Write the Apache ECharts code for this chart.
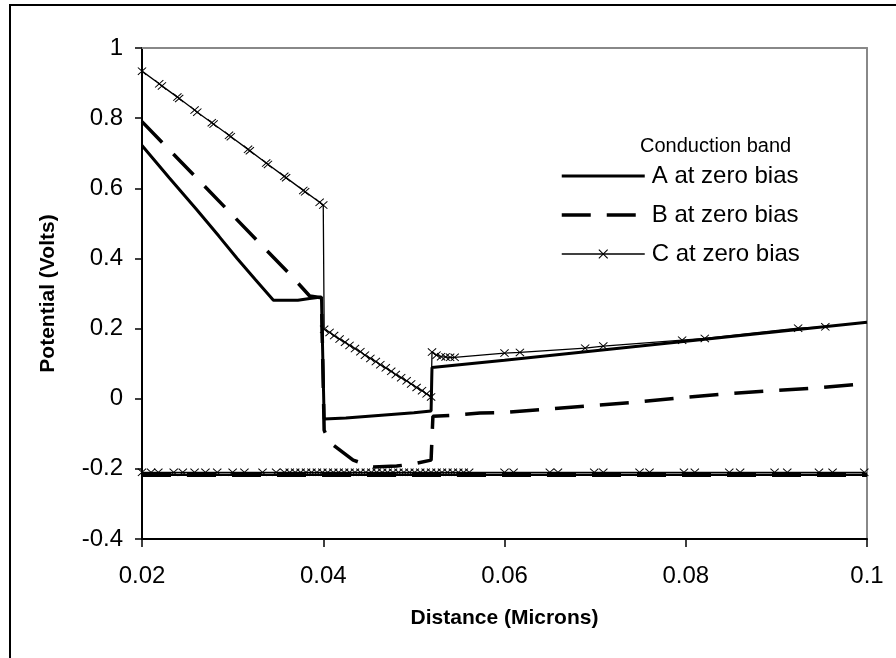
<!DOCTYPE html>
<html>
<head>
<meta charset="utf-8">
<script src="https://cdn.jsdelivr.net/npm/echarts@6/dist/echarts.min.js"></script>
<style>html,body{margin:0;padding:0;background:#fff;}#c{width:896px;height:658px;}</style>
</head>
<body>
<div id="c"></div>
<script>
// ---- tick labels ----
const xTickLabels = ['0.02', '0.04', '0.06', '0.08', '0.1'];
const yTickLabels = ['-0.4', '-0.2', '0', '0.2', '0.4', '0.6', '0.8', '1'];
const legendNames = ['A at zero bias', 'B at zero bias', 'C at zero bias'];

// ---- A at zero bias (conduction band) ----
const aX = [0.0200, 0.0230, 0.0260, 0.0285, 0.0305, 0.0325, 0.0345, 0.0372, 0.0385, 0.0398, 0.0400, 0.0401, 0.0425, 0.0450, 0.0475, 0.0500, 0.0519, 0.0520, 0.0600, 0.0700, 0.0800, 0.0900, 0.1000];
const aY = [0.722, 0.630, 0.540, 0.463, 0.400, 0.340, 0.281, 0.281, 0.286, 0.290, 0.290, -0.058, -0.055, -0.050, -0.045, -0.040, -0.035, 0.089, 0.110, 0.137, 0.164, 0.191, 0.218];

// ---- B at zero bias ----
const bX = [0.0200, 0.0365, 0.0385, 0.0398, 0.0400, 0.0401, 0.0407, 0.0433, 0.0455, 0.0481, 0.0499, 0.0519, 0.0521, 0.0545, 0.0573, 0.0595, 0.0645, 0.0694, 0.0744, 0.0791, 0.0841, 0.0890, 0.0939, 0.1000];
const bY = [0.790, 0.350, 0.293, 0.288, 0.290, -0.090, -0.124, -0.175, -0.195, -0.192, -0.186, -0.175, -0.050, -0.047, -0.041, -0.040, -0.030, -0.020, -0.010, 0.002, 0.013, 0.022, 0.030, 0.043];

// ---- C at zero bias ----
const cX = [0.0200, 0.0219, 0.0222, 0.0239, 0.0241, 0.0258, 0.0261, 0.0277, 0.0279, 0.0296, 0.0298, 0.0317, 0.0319, 0.0337, 0.0339, 0.0357, 0.0359, 0.0378, 0.0380, 0.0396, 0.0400,
  0.0401, 0.0407, 0.0412, 0.0418, 0.0424, 0.0429, 0.0435, 0.0441, 0.0446, 0.0452, 0.0458, 0.0463, 0.0469, 0.0475, 0.0480, 0.0486, 0.0492, 0.0497, 0.0503, 0.0509, 0.0514, 0.0519,
  0.0520, 0.0525, 0.0530, 0.0535, 0.0540, 0.0545, 0.0600, 0.0617, 0.0689, 0.0709, 0.0796, 0.0821, 0.0924, 0.0954];
const cY = [0.934, 0.898, 0.892, 0.860, 0.856, 0.823, 0.817, 0.787, 0.783, 0.751, 0.747, 0.711, 0.707, 0.672, 0.668, 0.634, 0.630, 0.594, 0.590, 0.560, 0.552,
  0.198, 0.189, 0.180, 0.170, 0.161, 0.152, 0.143, 0.134, 0.124, 0.115, 0.106, 0.097, 0.088, 0.078, 0.069, 0.060, 0.051, 0.042, 0.032, 0.023, 0.014, 0.005,
  0.133, 0.124, 0.120, 0.119, 0.118, 0.118, 0.130, 0.132, 0.144, 0.150, 0.167, 0.172, 0.201, 0.205];

// ---- lower reference levels (no legend entry) ----
const aLowX = [0.0200, 0.1000];
const aLowY = [-0.217, -0.217];
const bLowX = [0.0200, 0.1000];
const bLowY = [-0.217, -0.217];
const cLowX = [0.0200, 0.0210, 0.0218, 0.0235, 0.0245, 0.0258, 0.0270, 0.0283, 0.0300, 0.0313, 0.0333, 0.0348,
  0.0357, 0.0363, 0.0369, 0.0375, 0.0381, 0.0387, 0.0393, 0.0399, 0.0405, 0.0411, 0.0417, 0.0423, 0.0429, 0.0435,
  0.0441, 0.0447, 0.0453, 0.0459, 0.0465, 0.0471, 0.0477, 0.0483, 0.0489, 0.0495, 0.0501, 0.0507, 0.0513, 0.0519,
  0.0525, 0.0531, 0.0537, 0.0543, 0.0549, 0.0555, 0.0561,
  0.0600, 0.0610, 0.0650, 0.0659, 0.0699, 0.0709, 0.0749, 0.0760, 0.0798, 0.0810, 0.0848, 0.0860, 0.0898, 0.0912, 0.0947, 0.0962, 0.0997];
const cLowY = [-0.210, -0.210, -0.210, -0.210, -0.210, -0.210, -0.210, -0.210, -0.210, -0.210, -0.210, -0.210,
  -0.210, -0.210, -0.210, -0.210, -0.210, -0.210, -0.210, -0.210, -0.210, -0.210, -0.210, -0.210, -0.210, -0.210,
  -0.210, -0.210, -0.210, -0.210, -0.210, -0.210, -0.210, -0.210, -0.210, -0.210, -0.210, -0.210, -0.210, -0.210,
  -0.210, -0.210, -0.210, -0.210, -0.210, -0.210, -0.210,
  -0.210, -0.210, -0.210, -0.210, -0.210, -0.210, -0.210, -0.210, -0.210, -0.210, -0.210, -0.210, -0.210, -0.210, -0.210, -0.210, -0.210];

const zip = (xs, ys) => xs.map((x, i) => [x, ys[i]]);
const FONT = '"Liberation Sans", Arial, sans-serif';
const CROSS = 'path://M0,0.8L0.8,0L5,4.2L9.2,0L10,0.8L5.8,5L10,9.2L9.2,10L5,5.8L0.8,10L0,9.2L4.2,5Z';
const DASH = [29, 16];

const chart = echarts.init(document.getElementById('c'), null, {renderer: 'canvas'});
chart.setOption({
  animation: false,
  backgroundColor: '#fff',
  textStyle: {fontFamily: FONT, color: '#000'},
  graphic: [{
    type: 'rect', silent: true, z: 0,
    shape: {x: 10, y: 5, width: 1000, height: 1000},
    style: {fill: 'none', stroke: '#000', lineWidth: 2}
  }],
  title: {
    text: 'Conduction band', left: 635, top: 131,
    textStyle: {fontFamily: FONT, fontSize: 20, fontWeight: 'normal', color: '#000'}
  },
  legend: {
    data: [
      {name: legendNames[0], itemStyle: {opacity: 0}, lineStyle: {color: '#000', width: 3}},
      {name: legendNames[1], itemStyle: {opacity: 0}, lineStyle: {color: '#000', width: 3.5, type: DASH}},
      {name: legendNames[2], lineStyle: {color: '#000', width: 1.3}}
    ],
    orient: 'vertical', left: 560, top: 164,
    itemWidth: 83, itemHeight: 12, itemGap: 15, padding: 0,
    textStyle: {fontFamily: FONT, fontSize: 24, color: '#000', padding: [0, 0, 0, 2]}
  },
  grid: {left: 142, right: 29, top: 48, bottom: 119, containLabel: false},
  xAxis: [{
    type: 'value', min: 0.02, max: 0.1, interval: 0.02, position: 'bottom',
    name: 'Distance (Microns)', nameLocation: 'middle', nameGap: 69,
    nameTextStyle: {fontFamily: FONT, fontSize: 21, fontWeight: 'bold', color: '#000'},
    axisLine: {onZero: false, lineStyle: {color: '#000', width: 2}},
    axisTick: {show: true, inside: false, length: 8, lineStyle: {color: '#000', width: 1.5}},
    axisLabel: {margin: 25, fontFamily: FONT, fontSize: 24, color: '#000',
      formatter: v => xTickLabels[Math.round((v - 0.02) / 0.02)]},
    splitLine: {show: false}
  }, {
    type: 'value', min: 0.02, max: 0.1, position: 'top',
    axisLine: {show: true, onZero: false, lineStyle: {color: '#888', width: 2}},
    axisTick: {show: false}, axisLabel: {show: false}, splitLine: {show: false}
  }],
  yAxis: [{
    type: 'value', min: -0.4, max: 1, interval: 0.2, position: 'left',
    name: 'Potential (Volts)', nameLocation: 'middle', nameGap: 83,
    nameTextStyle: {fontFamily: FONT, fontSize: 21, fontWeight: 'bold', color: '#000'},
    axisLine: {show: true, onZero: false, lineStyle: {color: '#000', width: 2}},
    axisTick: {show: true, inside: false, length: 7, lineStyle: {color: '#000', width: 1.5}},
    axisLabel: {margin: 19, fontFamily: FONT, fontSize: 24, color: '#000',
      formatter: v => yTickLabels[Math.round((v + 0.4) / 0.2)]},
    splitLine: {show: false}
  }, {
    type: 'value', min: -0.4, max: 1, position: 'right',
    axisLine: {show: true, onZero: false, lineStyle: {color: '#888', width: 2}},
    axisTick: {show: false}, axisLabel: {show: false}, splitLine: {show: false}
  }],
  series: [
    {name: 'A at zero bias', type: 'line', data: zip(aX, aY), showSymbol: false, symbol: 'none',
      lineStyle: {color: '#000', width: 3}, itemStyle: {color: '#000'}, z: 3},
    {name: 'B at zero bias', type: 'line', data: zip(bX, bY), showSymbol: false, symbol: 'none',
      lineStyle: {color: '#000', width: 3.5, type: DASH}, itemStyle: {color: '#000'}, z: 3},
    {name: 'C at zero bias', type: 'line', data: zip(cX, cY), symbol: CROSS, symbolSize: [9, 8],
      lineStyle: {color: '#000', width: 1.3}, itemStyle: {color: '#000', borderWidth: 0}, z: 4},
    {name: 'A low', type: 'line', data: zip(aLowX, aLowY), showSymbol: false, symbol: 'none',
      lineStyle: {color: '#000', width: 2.5}, itemStyle: {color: '#000'}, z: 3},
    {name: 'B low', type: 'line', data: zip(bLowX, bLowY), showSymbol: false, symbol: 'none',
      lineStyle: {color: '#000', width: 4.5, type: DASH}, itemStyle: {color: '#000'}, z: 3},
    {name: 'C low', type: 'line', data: zip(cLowX, cLowY), symbol: CROSS, symbolSize: [9, 8],
      lineStyle: {color: '#000', width: 1.2}, itemStyle: {color: '#000', borderWidth: 0}, z: 4}
  ]
});
</script>
</body>
</html>
